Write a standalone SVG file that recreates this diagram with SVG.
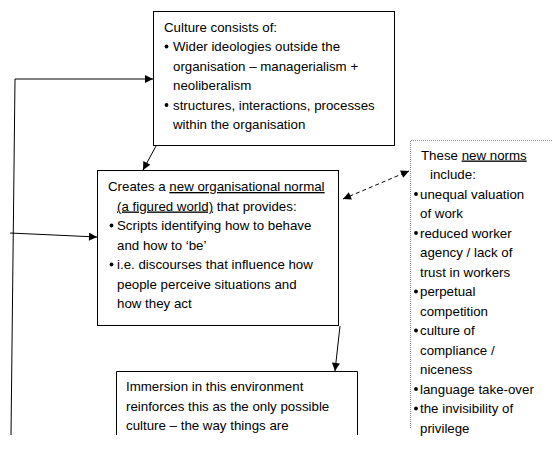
<svg xmlns="http://www.w3.org/2000/svg" width="553" height="453" viewBox="0 0 553 453">
<style>
  text { font-family: "Liberation Sans", Arial, sans-serif; font-size: 13.3px; fill: #000; }
  .box { fill: #fff; stroke: #000; stroke-width: 1; }
  .u { text-decoration: underline; }
  .conn { fill: none; stroke: #000; stroke-width: 1; }
  .dash { stroke-dasharray: 4 3; }
  .dot { fill: #000; }
</style>
<defs>
  <marker id="ah" viewBox="0 0 10 10" refX="10" refY="5" markerWidth="9" markerHeight="8" markerUnits="userSpaceOnUse" orient="auto-start-reverse">
    <path d="M0,0 L10,5 L0,10 Z" fill="#000"/>
  </marker>
</defs>
<rect width="553" height="453" fill="#fff"/>

<g id="culture">
  <rect class="box" x="153.5" y="11.5" width="241" height="134"/>
  <text x="164" y="31.5">Culture consists of:</text>
  <circle class="dot" cx="166.5" cy="46.5" r="1.9"/>
  <text x="173" y="51">Wider ideologies outside the</text>
  <text x="173" y="70.5">organisation – managerialism +</text>
  <text x="173" y="90">neoliberalism</text>
  <circle class="dot" cx="166.5" cy="105" r="1.9"/>
  <text x="173" y="109.5">structures, interactions, processes</text>
  <text x="173" y="129">within the organisation</text>
</g>

<g id="normal">
  <rect class="box" x="97.5" y="170.5" width="241" height="155"/>
  <text x="108" y="191">Creates a <tspan class="u">new organisational normal</tspan></text>
  <text x="117" y="210.5"><tspan class="u">(a figured world)</tspan> that provides:</text>
  <circle class="dot" cx="111.5" cy="225.5" r="1.9"/>
  <text x="117" y="230">Scripts identifying how to behave</text>
  <text x="117" y="249.5">and how to ‘be’</text>
  <circle class="dot" cx="111.5" cy="264.5" r="1.9"/>
  <text x="117" y="269">i.e. discourses that influence how</text>
  <text x="117" y="288.5">people perceive situations and</text>
  <text x="117" y="308">how they act</text>
</g>

<g id="norms">
  <path d="M410.5,428 V140.5 H553" fill="none" stroke="#8c8c8c" stroke-width="1" stroke-dasharray="1 1"/>
  <text x="421" y="159.5">These <tspan class="u">new norms</tspan></text>
  <text x="430" y="179">include:</text>
  <circle class="dot" cx="416" cy="194" r="1.9"/>
  <text x="420" y="198.5">unequal valuation</text>
  <text x="420" y="218">of work</text>
  <circle class="dot" cx="416" cy="233" r="1.9"/>
  <text x="420" y="237.5">reduced worker</text>
  <text x="420" y="257">agency / lack of</text>
  <text x="420" y="276.5">trust in workers</text>
  <circle class="dot" cx="416" cy="291.5" r="1.9"/>
  <text x="420" y="296">perpetual</text>
  <text x="420" y="315.5">competition</text>
  <circle class="dot" cx="416" cy="330.5" r="1.9"/>
  <text x="420" y="335">culture of</text>
  <text x="420" y="354.5">compliance /</text>
  <text x="420" y="374">niceness</text>
  <circle class="dot" cx="416" cy="389" r="1.9"/>
  <text x="420" y="393.5">language take-over</text>
  <circle class="dot" cx="416" cy="408.5" r="1.9"/>
  <text x="420" y="413">the invisibility of</text>
  <text x="420" y="432.5">privilege</text>
</g>

<g id="immersion">
  <path d="M116.5,435 V371.5 H357.5 V435" class="conn"/>
  <text x="126" y="391">Immersion in this environment</text>
  <text x="126" y="410.5">reinforces this as the only possible</text>
  <text x="126" y="430">culture – the way things are</text>
</g>

<g id="connectors">
  <path class="conn" d="M11,435 L15,79 L153,79" marker-end="url(#ah)"/>
  <path class="conn" d="M10,233 L97,237" marker-end="url(#ah)"/>
  <path class="conn" d="M156,146 L143,170" marker-end="url(#ah)"/>
  <path class="conn" d="M340,326 L335,371" marker-end="url(#ah)"/>
  <path class="conn dash" d="M343,199 L409,171" marker-start="url(#ah)" marker-end="url(#ah)"/>
</g>
</svg>
